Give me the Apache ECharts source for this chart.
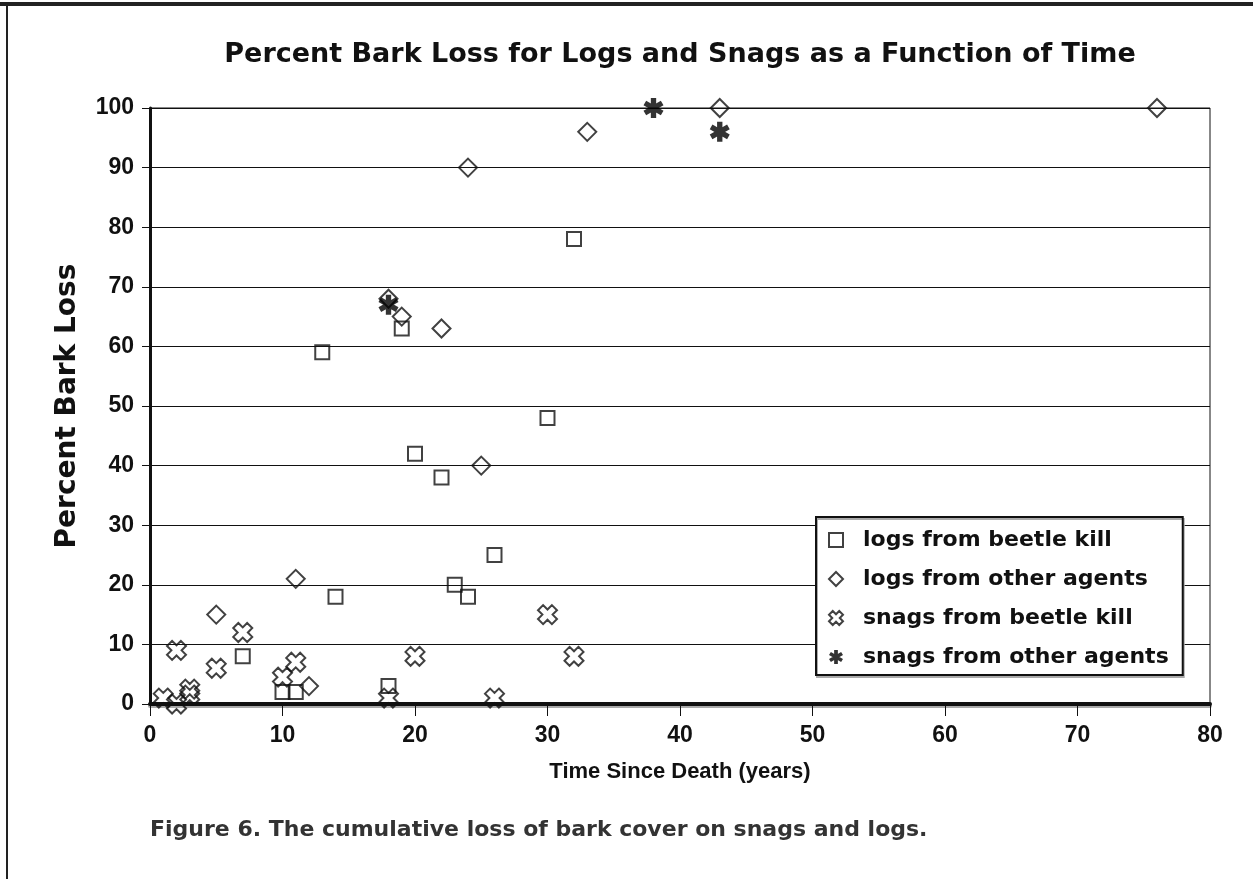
<!DOCTYPE html>
<html style="height: 100%">
<head>
    <meta charset="utf-8">
    <script src="https://cdn.jsdelivr.net/npm/echarts@6/dist/echarts.min.js"></script>
</head>
<body style="height: 100%; margin: 0; background: #fff">
    <div id="main" style="width:1253px; height:879px;"></div>
    <script type="text/javascript">
    // data: [years, percent]
    var logsBeetle = [[13, 59], [19, 63], [20, 42], [22, 38], [30, 48], [32, 78], [14, 18],
        [23, 20], [24, 18], [26, 25], [7, 8], [10, 2], [11, 2], [18, 3]];
    var logsOther = [[24, 90], [33, 96], [43, 100], [76, 100], [18, 68], [19, 65], [22, 63],
        [25, 40], [11, 21], [5, 15], [12, 3]];
    var snagsBeetle = [[2, 9], [7, 12], [5, 6], [11, 7], [10, 4.5], [1, 1], [2, 0], [3, 2.5],
        [3, 1.5], [18, 1], [20, 8], [30, 15], [32, 8], [26, 1]];
    var snagsOther = [[18, 67], [38, 100], [43, 96]];
    var seriesNames = ['logs from beetle kill', 'logs from other agents',
        'snags from beetle kill', 'snags from other agents'];

    var INK = '#111';
    // hollow X
    var crossPath = 'path://M1.344,-2.899L2.899,-1.344L1.556,0L2.899,1.344L1.344,2.899L0,1.556' +
        'L-1.344,2.899L-2.899,1.344L-1.556,0L-2.899,-1.344L-1.344,-2.899L0,-1.556Z';
    // six-armed asterisk
    var starPath = 'path://M-0.8,-3L0.8,-3L0.8,3L-0.8,3Z' +
        'M-2.998,-0.807L-2.198,-2.193L2.998,0.807L2.198,2.193Z' +
        'M2.198,-2.193L2.998,-0.807L-2.198,2.193L-2.998,0.807Z';

    var hollow = { color: 'rgba(255,255,255,0)', borderColor: INK, borderWidth: 2 };

    var myChart = echarts.init(document.getElementById('main'));
    var option = {
        backgroundColor: '#fff',
        animation: false,
        graphic: [
            { type: 'rect', shape: { x: 0, y: 2, width: 1253, height: 4 }, style: { fill: '#222' } },
            { type: 'rect', shape: { x: 6, y: 2, width: 2, height: 877 }, style: { fill: '#222' } },
            {
                type: 'text', x: 680, y: 55,
                style: {
                    text: 'Percent Bark Loss for Logs and Snags as a Function of Time',
                    font: 'bold 27px "DejaVu Sans"', fill: INK,
                    textAlign: 'center', textVerticalAlign: 'middle'
                }
            },
            {
                type: 'text', x: 150, y: 830,
                style: {
                    text: 'Figure 6. The cumulative loss of bark cover on snags and logs.',
                    font: 'bold 22px "DejaVu Sans"', fill: '#333',
                    textAlign: 'left', textVerticalAlign: 'middle'
                }
            }
        ],
        grid: {
            left: 150, right: 43, top: 108, bottom: 175,
            show: true, borderColor: INK, borderWidth: 1, backgroundColor: 'transparent'
        },
        xAxis: {
            type: 'value', min: 0, max: 80, interval: 10,
            name: 'Time Since Death (years)', nameLocation: 'middle', nameGap: 57,
            nameTextStyle: { fontFamily: 'Liberation Sans', fontWeight: 'bold', fontSize: 22, color: INK },
            axisLine: { lineStyle: { color: INK, width: 4, shadowColor: '#aaa', shadowOffsetY: 2 } },
            axisTick: { show: true, length: 12, lineStyle: { color: INK, width: 1 } },
            axisLabel: { margin: 20, fontFamily: 'Liberation Sans', fontWeight: 'bold', fontSize: 23, color: INK },
            splitLine: { show: false }
        },
        yAxis: {
            type: 'value', min: 0, max: 100, interval: 10,
            name: 'Percent Bark Loss', nameLocation: 'middle', nameGap: 68,
            nameTextStyle: { fontFamily: 'DejaVu Sans', fontWeight: 'bold', fontSize: 28, color: INK },
            axisLine: { show: true, lineStyle: { color: INK, width: 3 } },
            axisTick: { show: true, length: 8, lineStyle: { color: INK, width: 1 } },
            axisLabel: { margin: 16, fontFamily: 'Liberation Sans', fontWeight: 'bold', fontSize: 23, color: INK },
            splitLine: { show: true, lineStyle: { color: INK, width: 1 } }
        },
        legend: {
            orient: 'vertical', left: 816, top: 517,
            width: 367,
            padding: [12, 14, 7, 12],
            itemGap: 17, itemWidth: 14, itemHeight: 14,
            backgroundColor: '#fff', borderColor: INK, borderWidth: 2,
            shadowColor: '#aaa', shadowOffsetX: 1, shadowOffsetY: 2,
            textStyle: { fontFamily: 'DejaVu Sans', fontWeight: 'bold', fontSize: 22, color: INK, padding: [0, 0, 0, 15] },
            data: seriesNames
        },
        series: [
            { name: seriesNames[0], type: 'scatter', data: logsBeetle, clip: false,
              symbol: 'rect', symbolSize: 14, itemStyle: hollow },
            { name: seriesNames[1], type: 'scatter', data: logsOther, clip: false,
              symbol: 'diamond', symbolSize: 18, itemStyle: hollow },
            { name: seriesNames[2], type: 'scatter', data: snagsBeetle, clip: false,
              symbol: crossPath, symbolSize: 19, itemStyle: hollow },
            { name: seriesNames[3], type: 'scatter', data: snagsOther, clip: false,
              symbol: starPath, symbolSize: 20, itemStyle: { color: '#000', borderWidth: 0 } }
        ]
    };
    myChart.setOption(option, true);
    </script>
</body>
</html>
